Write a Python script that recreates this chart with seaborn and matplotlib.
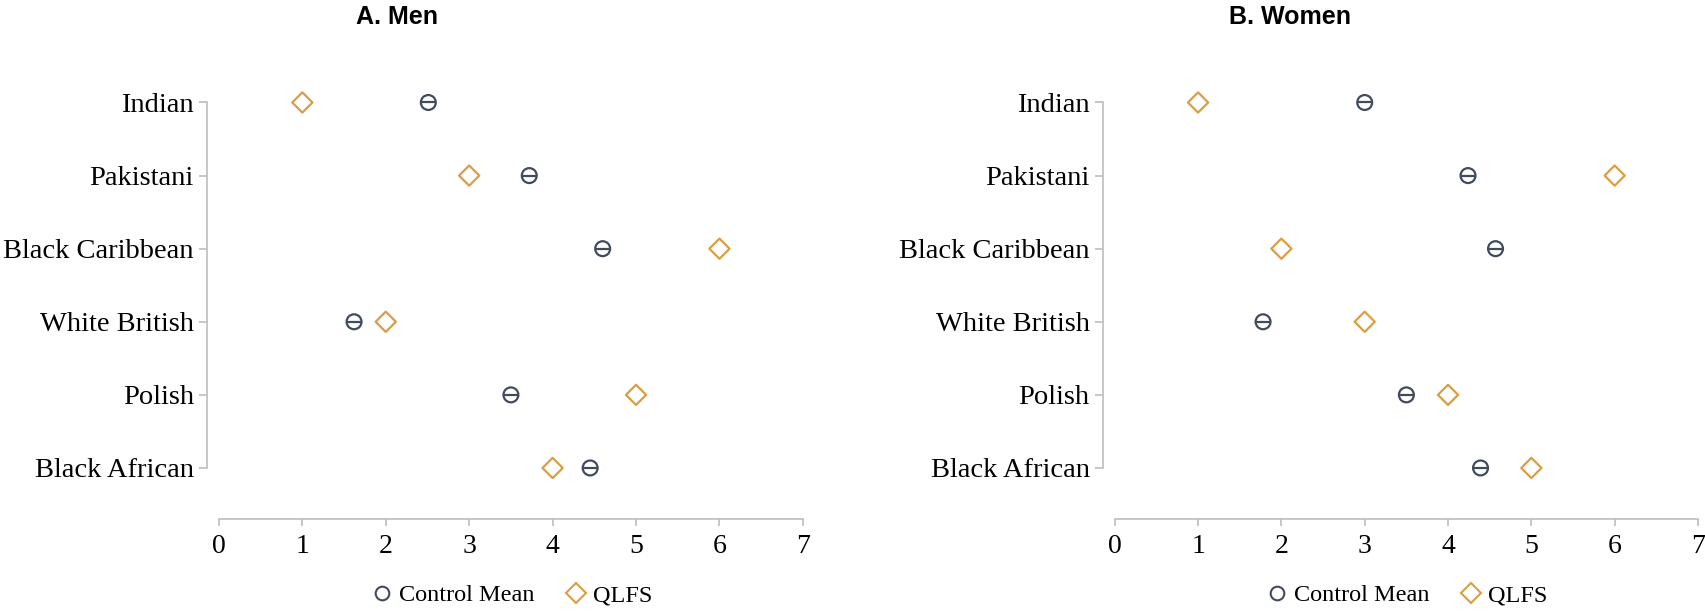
import pandas as pd
import seaborn as sns
import matplotlib.pyplot as plt
from matplotlib.lines import Line2D

groups = ["Indian", "Pakistani", "Black Caribbean", "White British", "Polish", "Black African"]
men_control = [2.51, 3.72, 4.60, 1.62, 3.50, 4.45]
men_qlfs = [1, 3, 6, 2, 5, 4]
women_control = [3.00, 4.24, 4.57, 1.78, 3.50, 4.39]
women_qlfs = [1, 6, 2, 3, 4, 5]
x_ticks = [0, 1, 2, 3, 4, 5, 6, 7]
panel_titles = ["A. Men", "B. Women"]

CIRCLE_COLOR = "#414b5c"
DIAMOND_COLOR = "#d99e45"
SPINE_COLOR = "#b8b8b8"


def hollow(ax, color):
    # seaborn fills the markers; turn the last collection into outlines
    pts = ax.collections[-1]
    pts.set_facecolors("none")
    pts.set_edgecolors(color)


def draw_panel(ax, control, qlfs):
    df = pd.DataFrame({"group": groups, "control": control, "qlfs": qlfs})

    sns.scatterplot(data=df, x="control", y="group", marker="o", s=115,
                    color=CIRCLE_COLOR, linewidth=1.6, ax=ax, zorder=3)
    hollow(ax, CIRCLE_COLOR)
    sns.scatterplot(data=df, x="control", y="group", marker="_", s=115,
                    color=CIRCLE_COLOR, linewidth=1.6, ax=ax, zorder=3)
    sns.scatterplot(data=df, x="qlfs", y="group", marker="D", s=106,
                    color=DIAMOND_COLOR, linewidth=1.6, ax=ax, zorder=3)
    hollow(ax, DIAMOND_COLOR)

    ax.set_xlim(0, 7)
    ax.set_ylim(5.698, -0.308)
    ax.set_xticks(x_ticks)
    ax.set_xlabel("")
    ax.set_ylabel("")

    sns.despine(ax=ax)
    ax.spines["left"].set_bounds(0, 5)
    ax.spines["bottom"].set_bounds(0, 7)
    ax.spines["left"].set_position(("outward", 8.6))
    for side in ("left", "bottom"):
        ax.spines[side].set_color(SPINE_COLOR)
        ax.spines[side].set_linewidth(1.1)
    ax.tick_params(axis="y", length=5.5, width=1.1, color=SPINE_COLOR,
                   labelsize=20.5, pad=4, labelcolor="black")
    ax.tick_params(axis="x", length=5, width=1.1, color=SPINE_COLOR,
                   labelsize=20, pad=6, labelcolor="black")


sns.set_style("ticks")
plt.rcParams["font.family"] = ["Liberation Serif", "DejaVu Serif"]

fig = plt.figure(figsize=(17.05, 6.11), dpi=100)
ax_men = fig.add_axes([0.1284, 0.1506, 0.3425, 0.7185])
ax_women = fig.add_axes([0.6538, 0.1506, 0.3421, 0.7185])

draw_panel(ax_men, men_control, men_qlfs)
draw_panel(ax_women, women_control, women_qlfs)

for xc, title in zip([397 / 1705, 1290 / 1705], panel_titles):
    fig.text(xc, 1 - 17 / 611, title, ha="center", va="center", color="black",
             fontsize=18, fontweight="bold", family=["Liberation Sans", "DejaVu Sans"])

handles = [
    Line2D([], [], linestyle="none", marker="o", markersize=9.8,
           markerfacecolor="none", markeredgecolor=CIRCLE_COLOR, markeredgewidth=1.5),
    Line2D([], [], linestyle="none", marker="D", markersize=10.3,
           markerfacecolor="none", markeredgecolor=DIAMOND_COLOR, markeredgewidth=1.5),
]
labels = ["Control Mean", "QLFS"]
for ax in (ax_men, ax_women):
    pos = ax.get_position()
    leg = fig.legend(handles, labels, loc="center",
                     bbox_to_anchor=(pos.x0 + pos.width / 2, 1 - 595 / 611),
                     ncol=2, frameon=False, fontsize=17.5, handletextpad=0.2,
                     columnspacing=1.2, handlelength=1.0, borderpad=0)
    for t in leg.get_texts():
        t.set_color("black")

fig.savefig("out.png", dpi=100)
